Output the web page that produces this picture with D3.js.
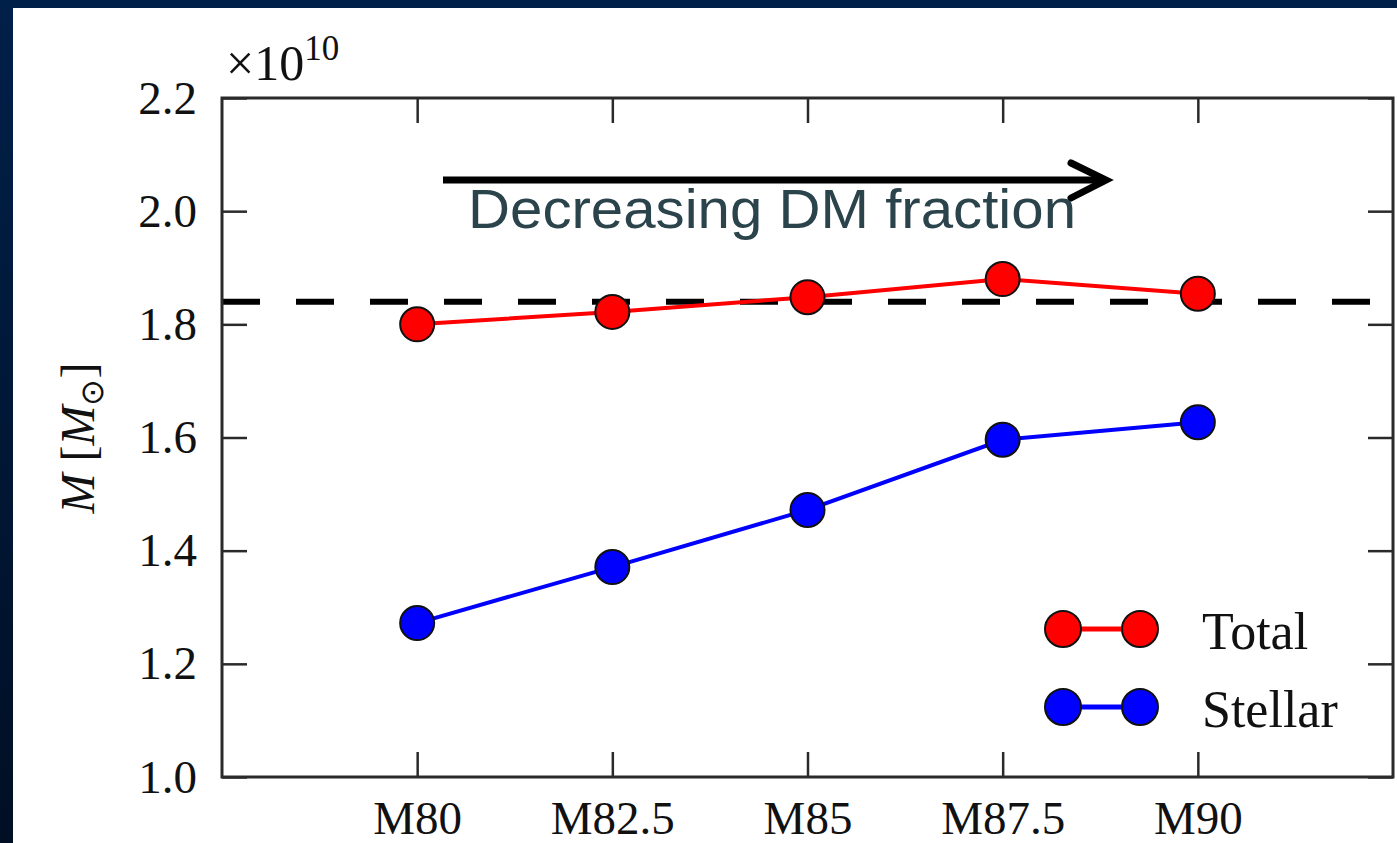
<!DOCTYPE html>
<html>
<head>
<meta charset="utf-8">
<script src="https://cdn.jsdelivr.net/npm/d3@7"></script>
<style>
  html, body { margin: 0; padding: 0; overflow: hidden; }
  svg { display: block; }
</style>
</head>
<body>
<div id="chart"></div>
<script>
// Data
const models = ["M80", "M82.5", "M85", "M87.5", "M90"];
const totalMass = [1.800, 1.822, 1.848, 1.880, 1.854];
const stellarMass = [1.272, 1.371, 1.472, 1.596, 1.627];
const refMass = 1.840;
const yTicks = [1.0, 1.2, 1.4, 1.6, 1.8, 2.0, 2.2];
const seriesNames = ["Total", "Stellar"];
const seriesColors = ["#ff0000", "#0000ff"];

var width = 1397, height = 843;
var margin = {top: 98, right: 4, bottom: 66, left: 222};

const svg = d3.select("#chart").append("svg")
    .attr("width", width)
    .attr("height", height);

// dark blue slide background
const defs = svg.append("defs");
const grad = defs.append("linearGradient")
    .attr("id", "bg").attr("x1", 0).attr("y1", 0).attr("x2", 0).attr("y2", 1);
grad.append("stop").attr("offset", "0%").attr("stop-color", "#002049");
grad.append("stop").attr("offset", "100%").attr("stop-color", "#000f24");
svg.append("rect").attr("width", width).attr("height", height).attr("fill", "url(#bg)");
svg.append("rect").attr("x", 13).attr("y", 8).attr("width", width - 13).attr("height", height - 8)
    .attr("fill", "#ffffff");

const x = d3.scaleLinear()
    .domain([-1, 5])
    .range([margin.left, width - margin.right]);
const y = d3.scaleLinear()
    .domain([1.0, 2.2])
    .range([height - margin.bottom, margin.top]);

const serif = "'Liberation Serif', 'Times New Roman', serif";
const tickLen = 25;
const axisColor = "#2a2a2a";

// Axes (ticks inward on all four sides)
const xIdx = d3.range(models.length);
svg.append("g")
    .attr("transform", "translate(0," + y(1.0) + ")")
    .call(d3.axisBottom(x).tickValues(xIdx).tickSize(-tickLen).tickPadding(24)
        .tickFormat(i => models[i]))
    .call(g => g.select(".domain").remove());
svg.append("g")
    .attr("transform", "translate(0," + y(2.2) + ")")
    .call(d3.axisTop(x).tickValues(xIdx).tickSize(-tickLen).tickFormat(""))
    .call(g => g.select(".domain").remove());
svg.append("g")
    .attr("transform", "translate(" + x(-1) + ",0)")
    .call(d3.axisLeft(y).tickValues(yTicks).tickSize(-tickLen).tickPadding(25)
        .tickFormat(d3.format(".1f")))
    .call(g => g.select(".domain").remove());
svg.append("g")
    .attr("transform", "translate(" + x(5) + ",0)")
    .call(d3.axisRight(y).tickValues(yTicks).tickSize(-tickLen).tickFormat(""))
    .call(g => g.select(".domain").remove());

svg.selectAll(".tick line").attr("stroke", axisColor).attr("stroke-width", 2.5);
svg.selectAll(".tick text")
    .attr("fill", "#111")
    .style("font-family", serif)
    .style("font-size", "47px");

// reference dashed line
svg.append("line")
    .attr("x1", x(-1)).attr("x2", x(5))
    .attr("y1", y(refMass)).attr("y2", y(refMass))
    .attr("stroke", "#000").attr("stroke-width", 6)
    .attr("stroke-dasharray", "38,36");

// frame
svg.append("rect")
    .attr("x", x(-1)).attr("y", y(2.2))
    .attr("width", x(5) - x(-1)).attr("height", y(1.0) - y(2.2))
    .attr("fill", "none").attr("stroke", axisColor).attr("stroke-width", 3);

// series
const line = d3.line().x((d, i) => x(i)).y(d => y(d));
[totalMass, stellarMass].forEach(function (vals, k) {
    svg.append("path")
        .datum(vals)
        .attr("d", line)
        .attr("fill", "none")
        .attr("stroke", seriesColors[k])
        .attr("stroke-width", 4);
    svg.append("g").selectAll("circle")
        .data(vals)
        .enter().append("circle")
        .attr("cx", (d, i) => x(i))
        .attr("cy", d => y(d))
        .attr("r", 17)
        .attr("fill", seriesColors[k])
        .attr("stroke", "#111")
        .attr("stroke-width", 2);
});

// legend
const legend = svg.append("g");
seriesNames.forEach(function (name, k) {
    let ly = 629 + k * 78;
    legend.append("line")
        .attr("x1", 1063).attr("x2", 1140).attr("y1", ly).attr("y2", ly)
        .attr("stroke", seriesColors[k]).attr("stroke-width", 5);
    [1063, 1140].forEach(function (cx) {
        legend.append("circle")
            .attr("cx", cx).attr("cy", ly).attr("r", 18)
            .attr("fill", seriesColors[k])
            .attr("stroke", "#111").attr("stroke-width", 2);
    });
    legend.append("text")
        .attr("x", 1202).attr("y", ly + 20)
        .attr("fill", "#111")
        .style("font-family", serif)
        .style("font-size", "52px")
        .text(name);
});

// x10^10 offset label
const offset = svg.append("text")
    .attr("x", 226).attr("y", 80)
    .attr("fill", "#111")
    .style("font-family", serif)
    .style("font-size", "50px");
offset.append("tspan").text("\u00d710");
offset.append("tspan").attr("dy", -20).style("font-size", "35px").text("10");

// y label
const ylab = svg.append("text")
    .attr("transform", "translate(94,438)rotate(-90)")
    .attr("text-anchor", "middle")
    .attr("fill", "#111")
    .style("font-family", serif)
    .style("font-size", "48px");
ylab.append("tspan").style("font-style", "italic").text("M");
ylab.append("tspan").text(" [");
ylab.append("tspan").style("font-style", "italic").text("M");
ylab.append("tspan").attr("dy", 9).style("font-size", "32px").text("\u2299");
ylab.append("tspan").attr("dy", -9).text("]");

// annotation arrow
svg.append("line")
    .attr("x1", 443).attr("x2", 1106).attr("y1", 180).attr("y2", 180)
    .attr("stroke", "#000").attr("stroke-width", 7);
svg.append("path")
    .attr("d", "M1071,163 L1106,180 L1071,198")
    .attr("fill", "none").attr("stroke", "#000")
    .attr("stroke-width", 7).attr("stroke-linecap", "round").attr("stroke-linejoin", "miter");
svg.append("text")
    .attr("x", 468).attr("y", 228)
    .attr("textLength", 608).attr("lengthAdjust", "spacingAndGlyphs")
    .attr("fill", "#2b434b")
    .style("font-family", "'Liberation Sans Narrow', 'Liberation Sans', Arial, sans-serif")
    .style("font-size", "55px")
    .text("Decreasing DM fraction");
</script>
</body>
</html>
